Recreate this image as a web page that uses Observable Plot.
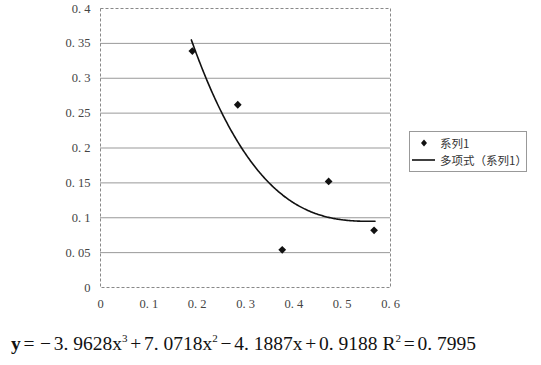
<!DOCTYPE html>
<html><head><meta charset="utf-8">
<script src="https://cdn.jsdelivr.net/npm/d3@7"></script>
<script src="https://cdn.jsdelivr.net/npm/@observablehq/plot@0.6"></script>
<style>
body{margin:0;background:#fff;}
#wrap{position:relative;width:541px;height:365px;overflow:hidden;}
#legend{position:absolute;left:409px;top:131px;width:118px;height:41px;border:1px solid #999;box-sizing:border-box;
  font-family:"Noto Sans CJK SC",sans-serif;font-size:11.5px;color:#333;background:#fff;}
#legend .row{position:absolute;left:0;height:16px;line-height:16px;white-space:nowrap;}
#legend .sym{position:absolute;left:0;top:0;width:28px;height:16px;}
#legend .lab{position:absolute;left:30px;top:0;}
#eq{position:absolute;left:11px;top:333px;font-family:"Liberation Serif","DejaVu Serif","Times New Roman",serif;font-size:19.5px;color:#111;white-space:nowrap;}
#eq .op{display:inline-block;text-align:center;width:16.5px;}
#eq .y{font-weight:bold;}
#eq sup{font-size:11px;vertical-align:0;position:relative;top:-8px;}
</style></head><body><div id="wrap"></div>
<script>
const xValues = [0.19, 0.284, 0.376, 0.472, 0.566];
const yValues = [0.339, 0.262, 0.054, 0.152, 0.082];
const trendCoefficients = [-3.9628, 7.0718, -4.1887, 0.9188]; // x^3, x^2, x, 1
const trendRange = [0.188, 0.568];
const xTicks = [0, 0.1, 0.2, 0.3, 0.4, 0.5, 0.6];
const yTicks = [0, 0.05, 0.1, 0.15, 0.2, 0.25, 0.3, 0.35, 0.4];
const gridTicks = [0.05, 0.1, 0.15, 0.2, 0.25, 0.3, 0.35];
const seriesName = "系列1";
const trendName = "多项式（系列1）";
const equationHTML = '<span class="y">y</span><span class="op">=</span><span class="op">−</span>3. 9628x<sup>3</sup><span class="op">+</span>7. 0718x<sup>2</sup><span class="op">−</span>4. 1887x<span class="op">+</span>0. 9188 R<sup>2</sup><span class="op">=</span>0. 7995';

const points = xValues.map((x, i) => ({x, y: yValues[i]}));
const poly = x => trendCoefficients.reduce((acc, c) => acc * x + c, 0);
const curve = d3.range(trendRange[0], trendRange[1] + 1e-9, 0.002).map(x => ({x, y: poly(x)}));
const fmt = d => d === 0 ? "0" : String(+d.toFixed(2)).replace(".", ". ");
const serif = "'Liberation Serif', 'DejaVu Serif', serif";

const chart = Plot.plot({
  width: 541, height: 365,
  marginLeft: 100, marginRight: 151, marginTop: 8, marginBottom: 78,
  style: {fontFamily: serif, fontSize: "12.5px", color: "#555", background: "#fff"},
  x: {domain: [0, 0.6]},
  y: {domain: [0, 0.4]},
  marks: [
    Plot.ruleY(gridTicks, {stroke: "#999", strokeWidth: 1}),
    Plot.frame({stroke: "#888", strokeDasharray: "3,2"}),
    Plot.axisX({ticks: xTicks, tickSize: 0, tickPadding: 12, tickFormat: fmt, label: null, fill: "#444", fontFamily: serif, fontSize: 12.5}),
    Plot.axisY({ticks: yTicks, tickSize: 0, tickPadding: 10, tickFormat: fmt, label: null, fill: "#444", fontFamily: serif, fontSize: 12.5}),
    Plot.line(curve, {x: "x", y: "y", stroke: "#111", strokeWidth: 1.6}),
    Plot.dot(points, {x: "x", y: "y", symbol: "diamond2", r: 3.5, fill: "#111", stroke: "none"})
  ]
});
const wrap = document.getElementById("wrap");
wrap.appendChild(chart);

const legend = document.createElement("div");
legend.id = "legend";
legend.innerHTML = `
 <div class="row" style="top:3px;width:116px"><svg class="sym" viewBox="0 0 28 16"><path d="M14 4.5L17 8L14 11.5L11 8Z" fill="#111"/></svg><span class="lab">${seriesName}</span></div>
 <div class="row" style="top:20px;width:116px"><svg class="sym" viewBox="0 0 28 16"><line x1="2" x2="25" y1="8" y2="8" stroke="#111" stroke-width="1.6"/></svg><span class="lab">${trendName}</span></div>`;
wrap.appendChild(legend);

const eq = document.createElement("div");
eq.id = "eq";
eq.innerHTML = equationHTML;
wrap.appendChild(eq);
</script>
</body></html>
